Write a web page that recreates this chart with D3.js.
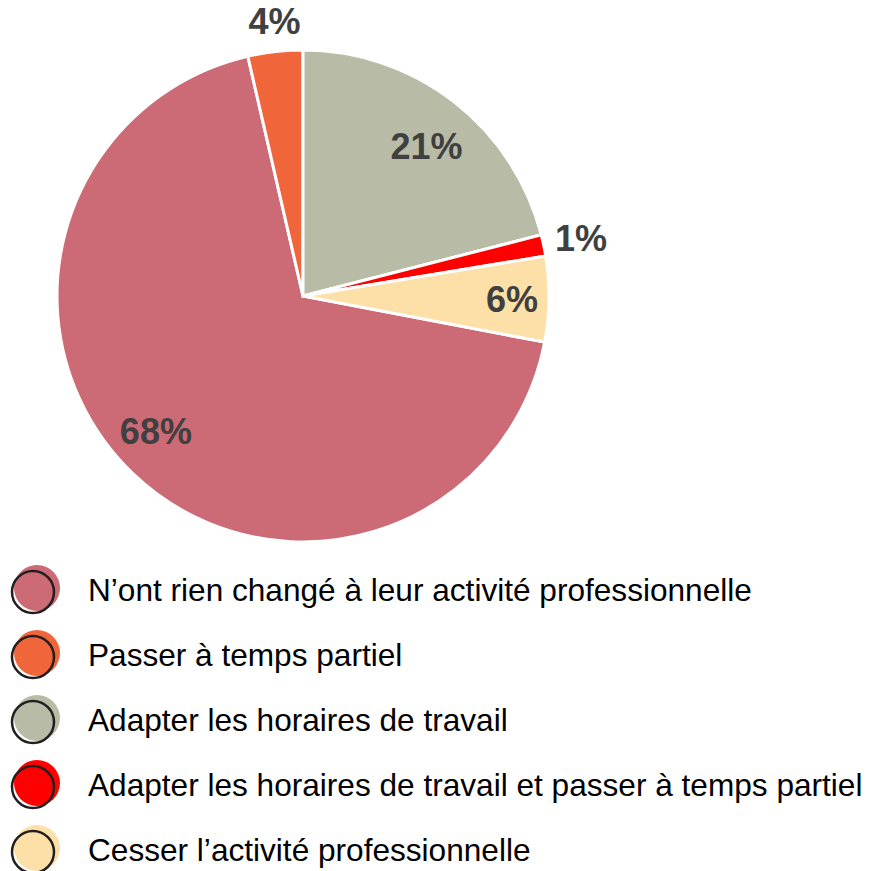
<!DOCTYPE html>
<html>
<head>
<meta charset="utf-8">
<script src="https://cdn.jsdelivr.net/npm/d3@7"></script>
<style>
  body { margin: 0; background: #fff; }
  text { font-family: "Liberation Sans", Arial, sans-serif; }
</style>
</head>
<body>
<script>
// data, legend order
var categories = [
    "N\u2019ont rien chang\u00e9 \u00e0 leur activit\u00e9 professionnelle",
    "Passer \u00e0 temps partiel",
    "Adapter les horaires de travail",
    "Adapter les horaires de travail et passer \u00e0 temps partiel",
    "Cesser l\u2019activit\u00e9 professionnelle"
];
var values = [68.4, 3.6, 21.0, 1.4, 5.6];
var colors = ["#cc6a76", "#f0653a", "#b8bca6", "#ff0000", "#fde0a8"];
// order the slices run clockwise from 12 o'clock
var sliceOrder = [2, 3, 4, 0, 1];

var width = 874, height = 871;
var cx = 303, cy = 296, R = 246;

var svg = d3.select("body").append("svg")
    .attr("width", width)
    .attr("height", height);

var pie = d3.pie()
    .sort(function (a, b) { return sliceOrder.indexOf(a) - sliceOrder.indexOf(b); })
    .value(function (i) { return values[i]; });

var arcs = pie(d3.range(values.length));

var arc = d3.arc().innerRadius(0).outerRadius(R);

var g = svg.append("g")
    .attr("transform", "translate(" + cx + "," + cy + ")");

g.selectAll("path.slice")
    .data(arcs)
    .enter().append("path")
    .attr("class", "slice")
    .attr("d", arc)
    .attr("fill", function (d) { return colors[d.data]; })
    .attr("stroke", "#fff")
    .attr("stroke-width", 3)
    .attr("stroke-linejoin", "miter");

// label placement: radius and small angular nudge (radians), legend order
var labelR = [200, 276, 194, 284, 209];
var labelShift = [0.06, 0.01, 0.03, 0, 0];

function labelPos(d) {
    var a = (d.startAngle + d.endAngle) / 2 + labelShift[d.data];
    var r = labelR[d.data];
    return [r * Math.sin(a), -r * Math.cos(a)];
}

g.selectAll("text.lbl")
    .data(arcs)
    .enter().append("text")
    .attr("class", "lbl")
    .attr("x", function (d) { return labelPos(d)[0]; })
    .attr("y", function (d) { return labelPos(d)[1]; })
    .attr("dy", "0.36em")
    .attr("text-anchor", "middle")
    .style("font-size", "36px")
    .style("font-weight", "bold")
    .style("fill", "#404040")
    .text(function (d) { return Math.round(values[d.data]) + "%"; });

// legend
var ly = d3.scalePoint()
    .domain(d3.range(categories.length))
    .range([590, 850]);

var leg = svg.selectAll("g.leg")
    .data(d3.range(categories.length))
    .enter().append("g")
    .attr("class", "leg")
    .attr("transform", function (i) { return "translate(0," + ly(i) + ")"; });

leg.append("circle")
    .attr("cx", 37)
    .attr("cy", -2)
    .attr("r", 23)
    .attr("fill", function (i) { return colors[i]; });

leg.append("circle")
    .attr("cx", 33)
    .attr("cy", 2)
    .attr("r", 21)
    .attr("fill", "none")
    .attr("stroke", "#231f20")
    .attr("stroke-width", 2.5);

leg.append("text")
    .attr("x", 88)
    .attr("y", 0)
    .attr("dy", "0.36em")
    .style("font-size", "31.6px")
    .style("fill", "#000")
    .text(function (i) { return categories[i]; });
</script>
</body>
</html>
